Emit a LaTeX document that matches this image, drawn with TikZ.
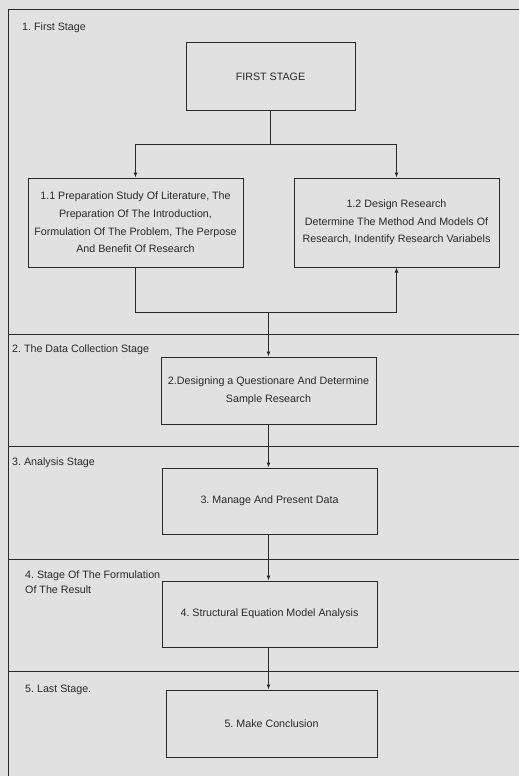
\documentclass[tikz,border=0pt]{standalone}
\usepackage{fontspec}
\setmainfont{Liberation Sans}
\usetikzlibrary{calc,arrows.meta}
\definecolor{paper}{RGB}{224,225,224}
\definecolor{ink}{RGB}{40,40,40}
\frenchspacing

\begin{document}
\begin{tikzpicture}[x=1pt,y=-1pt,
  stagebox/.style={draw=ink,rectangle,minimum width=215pt,minimum height=66pt,align=center,text=ink,font=\fontsize{10.7}{17.6}\selectfont,line width=1pt,inner sep=2pt},
  stagelabel/.style={anchor=west,align=left,text=ink,font=\fontsize{10.7}{15}\selectfont,inner sep=0pt},
  arr/.style={-{Latex[length=5pt,width=4pt]},draw=ink,line width=1pt},
  wire/.style={draw=ink,line width=1pt}]
\fill[paper] (0,0) rectangle (519,776);
\useasboundingbox (0,0) rectangle (519,776);

% frame and stage lanes
\draw[wire] (519,10) -- (8,10) -- (8,776);
\foreach \y in {334,446,559,671}
  \draw[wire] (8,\y) -- (519,\y);

\node[stagelabel] (lab1) at (22,28) {1. First Stage};
\node[stagelabel] (lab2) at (12,350) {2. The Data Collection Stage};
\node[stagelabel] (lab3) at (12,463) {3. Analysis Stage};
\node[stagelabel] (lab4) at (25,582.5) {4. Stage Of The Formulation\\Of The Result};
\node[stagelabel] (lab5) at (25,690) {5. Last Stage.};

% boxes
\node[stagebox,minimum width=169pt,minimum height=67pt] (first) at (270.5,76.5) {FIRST STAGE};
\node[stagebox,minimum height=89pt] (prep) at (135.5,222.5) {1.1 Preparation Study Of Literature, The\\Preparation Of The Introduction,\\Formulation Of The Problem, The Perpose\\And Benefit Of Research};
\node[stagebox,minimum width=205pt,minimum height=89pt] (design) at (396.5,222.5) {1.2 Design Research\\Determine The Method And Models Of\\Research, Indentify Research Variabels};
\node[stagebox,minimum height=67pt] (quest) at (268.5,390.5) {2.Designing a Questionare And Determine\\Sample Research};
\node[stagebox] (manage) at (269.5,501) {3. Manage And Present Data};
\node[stagebox] (sem) at (269.5,614) {4. Structural Equation Model Analysis};
\node[stagebox,minimum width=211pt,minimum height=67pt] (concl) at (271.5,723.5) {5. Make Conclusion};

% connectors
\coordinate (split) at ($ (first.south)+(0,34) $);
\draw[wire] (first.south) -- (split);
\draw[arr] (split) -| (prep.north);
\draw[arr] (split) -| (design.north);

\path (prep.south) ++(0,45) coordinate (low);
\coordinate (join) at (low -| quest.north);
\draw[arr] (prep.south) -- (low) -| (design.south);
\draw[arr] (join) -- (quest.north);

\draw[arr] (quest.south) -- (quest.south |- manage.north);
\draw[arr] (quest.south |- manage.south) -- (quest.south |- sem.north);
\draw[arr] (quest.south |- sem.south) -- (quest.south |- concl.north);

\end{tikzpicture}
\end{document}
